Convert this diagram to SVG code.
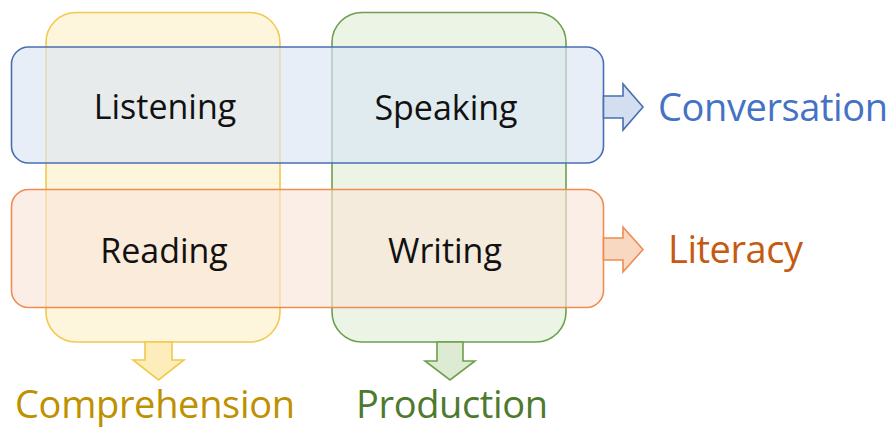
<svg xmlns="http://www.w3.org/2000/svg" width="893" height="428" viewBox="0 0 893 428">
  <style>
    .lbl { font-family: "Open Sans", "Liberation Sans", sans-serif; font-size: 34px; fill: #111; text-anchor: middle; }
    .out { font-family: "Open Sans", "Liberation Sans", sans-serif; font-size: 38px; }
    .col-y { fill: #FEF3D4; fill-opacity: 0.8; stroke: #F2C94C; stroke-width: 1.6; }
    .col-g { fill: #E7F2DF; fill-opacity: 0.8; stroke: #6E9F4E; stroke-width: 1.6; }
    .row-b { fill: #DAE5F4; fill-opacity: 0.65; stroke: #4A6FB0; stroke-width: 1.6; }
    .row-o { fill: #F9E5D8; fill-opacity: 0.65; stroke: #EE8C52; stroke-width: 1.6; }
  </style>

  <rect width="893" height="428" fill="#FFFFFF"/>

  <!-- Skill columns -->
  <g id="comprehension-column">
    <rect class="col-y" x="46" y="12.5" width="234" height="329.5" rx="30" ry="30"/>
  </g>
  <g id="production-column">
    <rect class="col-g" x="332" y="12.5" width="234" height="329.5" rx="30" ry="30"/>
  </g>

  <!-- Skill rows -->
  <g id="conversation-row">
    <rect class="row-b" x="11.5" y="47" width="592" height="116" rx="17" ry="17"/>
  </g>
  <g id="literacy-row">
    <rect class="row-o" x="11.5" y="189.5" width="592" height="118" rx="17" ry="17"/>
  </g>

  <!-- Arrows from groups to outcomes -->
  <g id="connectors" stroke-width="1.6" stroke-linejoin="miter">
    <polygon points="603.5,96 623,96 623,84 643,107 623,130 623,118 603.5,118" fill="#D3DEF1" stroke="#4A6FB0"/>
    <polygon points="603.5,238 623,238 623,227 643,249.5 623,272 623,260 603.5,260" fill="#F9D8C1" stroke="#EE8C52"/>
    <polygon points="145,342 172,342 172,360 184,360 158.5,380 133,360 145,360" fill="#FCEDBB" stroke="#F2C94C"/>
    <polygon points="437,342 463,342 463,361 475,361 450,380 425,361 437,361" fill="#DDEBD3" stroke="#6E9F4E"/>
  </g>

  <!-- Skills -->
  <g id="listening"><text class="lbl" x="165" y="119">Listening</text></g>
  <g id="speaking"><text class="lbl" x="446" y="120">Speaking</text></g>
  <g id="reading"><text class="lbl" x="164" y="262.5">Reading</text></g>
  <g id="writing"><text class="lbl" x="445" y="263">Writing</text></g>

  <!-- Outcomes -->
  <g id="conversation"><text class="out" x="658" y="121" fill="#4472C4" textLength="230">Conversation</text></g>
  <g id="literacy"><text class="out" x="668" y="263" fill="#C55A11" textLength="135">Literacy</text></g>
  <g id="comprehension"><text class="out" x="15" y="418" fill="#BF9000" textLength="280">Comprehension</text></g>
  <g id="production"><text class="out" x="356" y="418" fill="#4E7A2E" textLength="192">Production</text></g>
</svg>
